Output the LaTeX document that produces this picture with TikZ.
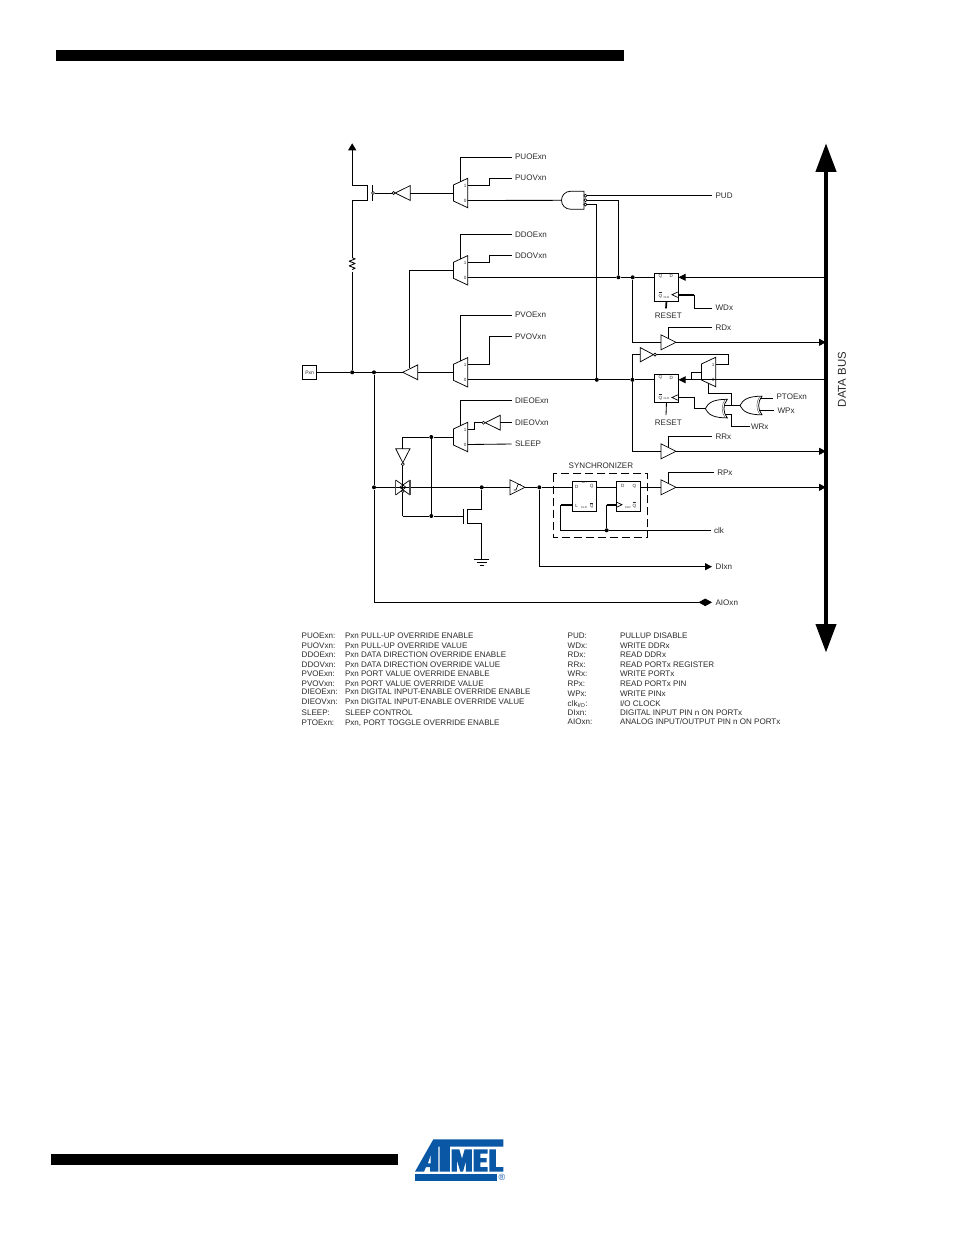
\documentclass[tikz,border=0pt]{standalone}
\usepackage{fontspec}
\setmainfont{Liberation Sans}
\usetikzlibrary{arrows.meta,calc}
\definecolor{txt}{HTML}{2B2B2B}
\definecolor{atmelblue}{HTML}{0A57A5}
\tikzset{
  wire/.style={line width=0.85pt,black,line join=miter},
  thickwire/.style={line width=1.7pt,black},
  gate/.style={line width=0.75pt,black,fill=white,line join=miter},
  dotn/.style={circle,fill=black,inner sep=0pt,minimum size=4pt},
  bub/.style={circle,draw=black,fill=white,line width=0.6pt,inner sep=0pt,minimum size=3pt},
  lab/.style={anchor=west,inner sep=0pt,outer xsep=3.6pt,outer ysep=0pt,font=\fontsize{8.05}{8}\selectfont,text=txt,text height=5.8pt,text depth=0pt},
  leg/.style={anchor=base west,inner sep=0pt,outer sep=0pt,font=\fontsize{8.05}{8}\selectfont,text=txt},
  clab/.style={inner sep=0pt,font=\fontsize{8.05}{8}\selectfont,text=txt},
  microt/.style={inner sep=0pt,font=\fontsize{4.6}{4.8}\selectfont,text=txt},
  nanot/.style={inner sep=0pt,font=\fontsize{2.8}{3}\selectfont,text=txt},
  regbox/.style={draw=black,line width=0.9pt,fill=white,minimum width=23.4pt,inner sep=0pt,anchor=north west},
  arr/.style={-{Triangle[length=7pt,width=7pt]}},
}
% mux: x of short side, y centre, name
\newcommand{\muxbox}[3]{%
  \draw[gate] (#1,#2-8) -- (#1+14.3,#2-14.7) -- (#1+14.3,#2+14.7) -- (#1,#2+8) -- cycle;
  \coordinate (#3-in) at (#1,#2);
  \coordinate (#3-1) at (#1+14.3,#2-7.5);
  \coordinate (#3-0) at (#1+14.3,#2+7.5);
  \coordinate (#3-sel) at (#1+6.8,#2-11.2);
  \coordinate (#3-selb) at (#1+6.8,#2+11.2);
  \node[microt] (#3-t1) at (#1+11.8,#2-7.5) {1};
  \node[microt] (#3-t0) at (#1+11.8,#2+7.5) {0};
}
% buffer pointing right: x left, y centre, name
\newcommand{\bufR}[3]{%
  \draw[gate] (#1,#2-7.5) -- (#1+15,#2) -- (#1,#2+7.5) -- cycle;
  \coordinate (#3-in) at (#1,#2);
  \coordinate (#3-out) at (#1+15,#2);
  \coordinate (#3-en) at (#1+7,#2-4);
}
% buffer pointing left: x tip, y centre, name
\newcommand{\bufL}[3]{%
  \draw[gate] (#1,#2) -- (#1+15,#2-7.4) -- (#1+15,#2+7.4) -- cycle;
  \coordinate (#3-tip) at (#1,#2);
  \coordinate (#3-base) at (#1+15,#2);
}
% OR gate pointing left: x tip, y centre, name
\newcommand{\orL}[3]{%
  \draw[gate] (#1,#2) .. controls (#1+3,#2-6) and (#1+8,#2-9.3) .. (#1+22,#2-9.3)
     .. controls (#1+17.5,#2-4) and (#1+17.5,#2+4) .. (#1+22,#2+9.3)
     .. controls (#1+8,#2+9.3) and (#1+3,#2+6) .. (#1,#2) -- cycle;
  \draw[line width=0.5pt,black!60] (#1+20,#2-9.3) .. controls (#1+15.8,#2-4) and (#1+15.8,#2+4) .. (#1+20,#2+9.3);
  \coordinate (#3-out) at (#1,#2);
}
\begin{document}
\begin{tikzpicture}[x=1pt,y=-1pt]
\useasboundingbox (0,0) rectangle (954,1235);
\fill[white] (0,0) rectangle (954,1235);
% header / footer bars
\fill[black] (56,50) rectangle (624,61);
\fill[black] (51,1154) rectangle (398,1165);
% Atmel logo
\begin{scope}[shift={(405,1130)},x=0.3333pt,y=-0.3333pt]
  \fill[atmelblue] (85,28) -- (295,28) -- (295,50) -- (135,50) -- (135,125) -- (104,125) -- (104,50) -- (100,50) -- (100,125) -- (75,125) -- (75,111) -- (63,111) -- (57,125) -- (30,125) -- cycle;
  \fill[white] (69,100) -- (77,76) -- (77,100) -- cycle;
  \fill[atmelblue] (140,58) -- (163,58) -- (171,86) -- (179,58) -- (201,58) -- (201,125) -- (183,125) -- (183,92) -- (174,125) -- (166,125) -- (156,92) -- (156,125) -- (140,125) -- cycle;
  \fill[atmelblue] (206,58) -- (248,58) -- (248,71) -- (226,71) -- (226,84) -- (245,84) -- (245,97) -- (226,97) -- (226,111) -- (248,111) -- (248,125) -- (206,125) -- cycle;
  \fill[atmelblue] (253,58) -- (273,58) -- (273,111) -- (295,111) -- (295,125) -- (253,125) -- cycle;
  \fill[atmelblue] (30,133) rectangle (275,152);
  \node[inner sep=0pt,text=atmelblue,font=\fontsize{9}{9}\selectfont] (regmark) at (291,143) {®};
\end{scope}

% ---------- muxes
\muxbox{453.4}{193}{mA}
\muxbox{453.4}{270.3}{mB}
\muxbox{453.4}{372.3}{mC}
\muxbox{453.4}{437}{mD}
\muxbox{701.4}{372}{mE}

% ---------- labels
\node[lab] (PUOE) at (511.5,157) {PUOExn};
\node[lab] (PUOV) at (511.5,178) {PUOVxn};
\node[lab] (DDOE) at (511.5,234.3) {DDOExn};
\node[lab] (DDOV) at (511.5,255.7) {DDOVxn};
\node[lab] (PVOE) at (511.5,315) {PVOExn};
\node[lab] (PVOV) at (511.5,336.3) {PVOVxn};
\node[lab] (DIEE) at (511.5,400.5) {DIEOExn};
\node[lab] (DIEV) at (511.5,422.7) {DIEOVxn};
\node[lab] (SLP) at (511.5,444) {SLEEP};
\node[lab] (PUD) at (712,195.7) {PUD};
\node[lab] (WDx) at (712,308) {WDx};
\node[lab] (RDx) at (712,327.3) {RDx};
\node[lab] (RRx) at (712,436.7) {RRx};
\node[lab] (RPx) at (713.7,472.8) {RPx};
\node[lab] (clk) at (710.5,530.3) {clk};
\node[lab] (DIx) at (712,566.7) {DIxn};
\node[lab] (AIO) at (712,602.3) {AIOxn};
\node[lab] (PTO) at (773,396.3) {PTOExn};
\node[lab] (WPx) at (774,410.9) {WPx};
\node[lab,outer xsep=1pt] (WRx) at (750,426.8) {WRx};
\node[clab] (rst1) at (668.3,315.4) {RESET};
\node[clab] (rst2) at (668.3,422.7) {RESET};
\node[clab] (syn) at (600.9,465.4) {SYNCHRONIZER};
\node[inner sep=0pt,rotate=90,font=\fontsize{11.4}{12}\selectfont,text=txt] (dbus) at (842,379.5) {DATA BUS};

% ---------- Pxn pad
\node[draw=black,line width=0.9pt,fill=white,minimum width=14pt,minimum height=13.4pt,inner sep=0pt,font=\fontsize{5}{5}\selectfont,text=txt] (Pxn) at (309.7,372.3) {Pxn};

% ---------- registers
\node[regbox,minimum height=28pt] (rA) at (654.3,272.7) {};
\node[regbox,minimum height=28pt] (rB) at (654.3,374.3) {};
\node[regbox,minimum height=29.7pt] (rC) at (572.3,481) {};
\node[regbox,minimum height=29.7pt] (rD) at (616.3,481) {};
\node[microt] (rAq) at (660.5,276) {Q};
\node[microt] (rAd) at (671.3,276) {D};
\node[microt] (rAn) at (660.5,295) {$\overline{\mathrm{Q}}$};
\node[nanot] (rAc) at (666.3,297.3) {CLR};
\node[microt] (rBq) at (660.5,377.7) {Q};
\node[microt] (rBd) at (671.3,377.7) {D};
\node[microt] (rBn) at (660.5,397) {$\overline{\mathrm{Q}}$};
\node[nanot] (rBc) at (666.3,398.8) {CLR};
\node[microt] (rCd) at (576.7,486.5) {D};
\node[microt] (rCq) at (591.7,486.5) {Q};
\node[nanot] (rCs) at (584.3,482.5) {SET};
\node[microt] (rCl) at (576.7,506) {L};
\node[nanot] (rCc) at (584,507.7) {CLR};
\node[microt] (rCn) at (591.7,505.7) {$\overline{\mathrm{Q}}$};
\node[microt] (rDd) at (622.7,486) {D};
\node[microt] (rDq) at (634.3,486) {Q};
\node[nanot] (rDc) at (627.8,507.7) {CLR};
\node[microt] (rDn) at (634.3,505) {$\overline{\mathrm{Q}}$};
% clock marks
\coordinate (rAclk) at (677.7,294.7);
\coordinate (rBclk) at (677.7,397.5);
\coordinate (rCclk) at (572.3,504.7);
\coordinate (rDclk) at (616.3,504.7);
\draw[wire,line width=0.7pt] (677.7,292) -- (672,294.7) -- (677.7,297.4);
\draw[wire,line width=0.7pt] (677.7,394.8) -- (672,397.5) -- (677.7,400.2);
\draw[wire,line width=0.7pt] (616.3,502) -- (622,504.7) -- (616.3,507.4);

% ---------- buffers
\bufR{661}{342.3}{bRD}
\bufR{661}{451.3}{bRR}
\bufR{661}{487.3}{bRP}
\bufR{510}{487.3}{bSch}
\draw[wire,line width=0.6pt] (513.5,490) -- (516,490) -- (518,484.5) -- (520.5,484.5);
\bufL{395.2}{193}{iPU}
\bufL{402.7}{372.3}{bOut}
\bufL{485.2}{422.7}{iDIE}
% inverter pointing right (to PORT mux)
\draw[gate] (640.3,347.6) -- (653.5,354.6) -- (640.3,361.8) -- cycle;
\coordinate (iT-in) at (640.3,354.6);
\node[bub] (iT-b) at (655,354.6) {};
% input inverter pointing down
\draw[gate] (395.7,448.7) -- (410,448.7) -- (402.8,462.7) -- cycle;
\coordinate (iS-in) at (402.8,448.7);
\node[bub] (iS-b) at (402.8,464.2) {};
\node[bub] (iPU-b) at (393.6,193) {};
\node[bub] (iDIE-b) at (483.5,422.7) {};

% ---------- gates
\draw[gate] (584,191.2) -- (571,191.2) .. controls (565,191.2) and (561.5,195.5) .. (561.5,200.3) .. controls (561.5,205) and (565,209.3) .. (571,209.3) -- (584,209.3) -- cycle;
\coordinate (andO) at (561.5,200.3);
\node[bub] (andA) at (585.4,195.7) {};
\node[bub] (andB) at (585.4,200.2) {};
\node[bub] (andC) at (585.4,204.5) {};
\orL{705.3}{408.6}{orA}
\orL{740}{405.5}{orB}
\coordinate (orA-a) at (724.5,405.5);
\coordinate (orA-b) at (725.3,414);
\coordinate (orB-a) at (760,398.8);
\coordinate (orB-b) at (759.3,410.3);

% ---------- junctions
\node[dotn] (jPxA) at (352.2,372.3) {};
\node[dotn] (jPxB) at (374,372.3) {};
\node[dotn] (jIn) at (374,487.3) {};
\node[dotn] (jDA) at (618.4,277.3) {};
\node[dotn] (jDB) at (632.7,277.3) {};
\node[dotn] (jPA) at (596.8,379.8) {};
\node[dotn] (jPB) at (632.4,379.8) {};
\node[dotn] (jS1) at (431.3,437) {};
\node[dotn] (jS2) at (431.3,516) {};
\node[dotn] (jN) at (481.7,487.3) {};
\node[dotn] (jI2) at (539.3,487.3) {};
\node[dotn] (jClk) at (606.7,530.3) {};

% ---------- bus
\coordinate (busT) at (826,143.3);
\coordinate (busB) at (826,652.5);
\draw[line width=4pt,black,{Triangle[length=28.5pt,width=20pt]}-{Triangle[length=28.5pt,width=20pt]}] (busT) -- (busB);
\coordinate (bA) at (826,277.3);
\coordinate (bB) at (826,342.3);
\coordinate (bC) at (826,379.8);
\coordinate (bD) at (826,451.3);
\coordinate (bE) at (826,487.3);

% ---------- pull-up transistor and resistor
\coordinate (vcc) at (352.2,143.3);
\coordinate (pT) at (352.2,185);
\coordinate (pB) at (352.2,200);
\coordinate (cT) at (367,185);
\coordinate (cB) at (367,200);
\coordinate (gT) at (372,185);
\coordinate (gB) at (372,200.5);
\coordinate (resT) at (352.2,257.7);
\coordinate (resB) at (352.2,271.7);
\draw[wire,-{Triangle[length=7pt,width=8pt]}] (pT) -- (vcc);
\draw[wire] (pB) -- (cB) -- (cT) -- (pT);
\draw[wire] (gT) -- (gB);
\node[bub] (gBub) at (373,193) {};
\draw[wire] (gBub) -- (iPU-b);
\draw[wire] (iPU-base) -- (mA-in);
\draw[wire] (pB) -- (resT);
\draw[wire,line join=round] (resT) -- ++(3,1.2) -- ++(-6,2.3) -- ++(6,2.3) -- ++(-6,2.4) -- ++(6,2.3) -- ++(-3,1.3);
\draw[wire] (resB) -- (jPxA);
\draw[wire] (Pxn) -- (jPxA) -- (jPxB) -- (bOut-tip);
\draw[wire] (bOut-base) -- (mC-in);

% ---------- mux controls
\coordinate (lane) at (489.3,0);
\draw[wire] (mA-sel) |- (PUOE.west);
\draw[wire] (mA-1) -- (mA-1 -| lane) |- (PUOV.west);
\draw[wire] (mB-sel) |- (DDOE.west);
\draw[wire] (mB-1) -- (mB-1 -| lane) |- (DDOV.west);
\draw[wire] (mC-sel) |- (PVOE.west);
\draw[wire] (mC-1) -- (mC-1 -| lane) |- (PVOV.west);
\draw[wire] (mD-sel) |- (DIEE.west);
\coordinate (laneD) at (474.3,0);
\draw[wire] (mD-1) -- (mD-1 -| laneD) |- (iDIE-b);
\draw[wire] (iDIE-base) -- (DIEV.west);
\draw[wire] (mD-0) -- (SLP.west);

% ---------- mux outputs
\draw[wire] (mA-0) -- (andO);
\draw[wire] (andA) -- (PUD.west);
\draw[wire] (andB) -| (jDA);
\draw[wire] (andC) -| (jPA);
\draw[wire] (mB-0 |- jDA) -- (jDA) -- (jDB) -- (rA.west |- jDB);
\draw[wire,arr] (bA) -- (rA.east |- bA);
\draw[wire] (mC-0 |- jPA) -- (jPA) -- (jPB) -- (rB.west |- jPB);
\draw[wire,arr] (mE-0 |- bC) -- (rB.east |- bC);
\draw[wire] (mE-0 |- bC) -- (bC);

% direction feedback
\coordinate (fbB) at (409.3,367.7);
\draw[wire] (fbB) |- (mB-in);

% register A controls
\coordinate (wdLane) at (694.3,0);
\draw[thickwire] (rAclk) -- (rAclk -| wdLane);
\draw[wire] (rAclk -| wdLane) |- (WDx.west);
\coordinate (rstA) at (666,308.3);
\draw[thickwire] (rA.south) -- (rstA);
% register B controls
\coordinate (rstB) at (666,415);
\draw[wire] (rB.south) -- (rstB);
\draw[wire] (rBclk) -- (rBclk -| wdLane) |- (orA-out);

% read buffers
\draw[wire] (jDB) |- (bRD-in);
\draw[wire,arr] (bRD-out) -- (bB);
\draw[wire] (bRD-en) |- (RDx.west);
\draw[wire] (iT-in) -| (jPB);
\draw[wire] (jPB) |- (bRR-in);
\draw[wire,arr] (bRR-out) -- (bD);
\draw[wire] (bRR-en) |- (RRx.west);
\draw[wire,arr] (bRP-out) -- (bE);
\draw[wire] (bRP-en) |- (RPx.west);

% toggle mux
\coordinate (tgl) at (728.3,0);
\draw[wire] (iT-b) -- (iT-b -| tgl) |- (mE-1);
\coordinate (mEo) at (691.7,372);
\draw[wire] (mE-in) -- (mEo) -- (mEo |- bC);
\coordinate (lOr) at (731,0);
\coordinate (selY) at (0,393.3);
\draw[wire] (mE-selb) |- (lOr |- selY) -- (lOr |- orB-out);
\draw[wire] (orA-a) -- (orB-out);
\draw[wire] (orA-b) -| (lOr |- WRx.west) -- (WRx.west);
\draw[wire] (orB-a) -- (orB-a -| PTO.west);
\draw[wire] (orB-b) -- (orB-b -| WPx.west);

% input section
\draw[wire] (jPxB) -- (jIn) -- (AIO.west -| jIn);
\coordinate (gL) at (402.8,437);
\draw[wire] (iS-in) -- (gL) -- (jS1) -- (mD-in);
\draw[wire] (jS1) -- (jS2);
\coordinate (gBot) at (402.8,516);
\coordinate (nG) at (463.3,516);
\draw[wire] (gBot) -- (jS2) -- (nG);
\draw[wire] (jIn) -- (bSch-in);
% pass gate
\coordinate (pgC) at (402.8,487.3);
\draw[wire] (iS-b) -- (pgC);
\draw[wire] (pgC) -- (gBot);
\draw[wire,line width=0.7pt] (395.7,480) -- (406,487.3) -- (395.7,495);
\draw[wire,line width=0.7pt] (410,480) -- (399.7,487.3) -- (410,495);
\draw[line width=1.1pt,black!70] (395.7,480) -- (395.7,495);
\draw[line width=1.1pt,black!70] (410,480) -- (410,495);
\node[bub,minimum size=2.6pt] (pgB) at (402.8,491.3) {};
% n-channel clamp
\draw[wire] (463.3,508.7) -- (463.3,523.7);
\coordinate (nT) at (467.5,509.3);
\coordinate (nB) at (467.5,523.7);
\coordinate (gnd) at (481.7,559);
\draw[wire] (467.5,508.7) -- (467.5,523.7);
\draw[wire] (jN) |- (nT);
\draw[wire] (nB) -| (gnd);
\draw[wire] (474.3,559.3) -- (489.3,559.3);
\draw[wire] (477.3,562.3) -- (486.7,562.3);
\draw[wire] (479.7,565.3) -- (484,565.3);
% synchronizer
\draw[wire,dash pattern=on 8pt off 4pt] (553.3,473.7) rectangle (647.7,537.3);
\draw[wire] (bSch-out) -- (jI2) -- (rC.west |- jI2);
\draw[wire] (rC.east |- jI2) -- (rD.west |- jI2);
\draw[wire] (rD.east |- jI2) -- (bRP-in);
\coordinate (ckL) at (560.7,0);
\draw[thickwire] (rCclk) -- (rCclk -| ckL);
\draw[wire] (rCclk -| ckL) |- (jClk);
\draw[wire] (jClk) -- (clk.west);
\draw[thickwire] (rDclk) -- (rDclk -| jClk);
\draw[wire] (rDclk -| jClk) -- (jClk);
\draw[wire,arr] (jI2) |- (DIx.west);
\draw[wire,-{Diamond[length=13.5pt,width=7.5pt]}] (AIO.west -| jIn) -- (AIO.west);

% ---------- legend
\node[leg] (l1a) at (301.7,638.4) {PUOExn:};    \node[leg] (l1b) at (345,638.4) {Pxn PULL-UP OVERRIDE ENABLE};
\node[leg] (l2a) at (301.7,648.4) {PUOVxn:};    \node[leg] (l2b) at (345,648.4) {Pxn PULL-UP OVERRIDE VALUE};
\node[leg] (l3a) at (301.7,657.4) {DDOExn:};    \node[leg] (l3b) at (345,657.4) {Pxn DATA DIRECTION OVERRIDE ENABLE};
\node[leg] (l4a) at (301.7,667.4) {DDOVxn:};    \node[leg] (l4b) at (345,667.4) {Pxn DATA DIRECTION OVERRIDE VALUE};
\node[leg] (l5a) at (301.7,676.4) {PVOExn:};    \node[leg] (l5b) at (345,676.4) {Pxn PORT VALUE OVERRIDE ENABLE};
\node[leg] (l6a) at (301.7,686.1) {PVOVxn:};    \node[leg] (l6b) at (345,686.1) {Pxn PORT VALUE OVERRIDE VALUE};
\node[leg] (l7a) at (301.7,694.4) {DIEOExn:};   \node[leg] (l7b) at (345,694.4) {Pxn DIGITAL INPUT-ENABLE OVERRIDE ENABLE};
\node[leg] (l8a) at (301.7,704.6) {DIEOVxn:};     \node[leg] (l8b) at (345,704.6) {Pxn DIGITAL INPUT-ENABLE OVERRIDE VALUE};
\node[leg] (l9a) at (301.7,715.6) {SLEEP:};       \node[leg] (l9b) at (345,715.6) {SLEEP CONTROL};
\node[leg] (l10a) at (301.7,725.4) {PTOExn:};   \node[leg] (l10b) at (345,725.4) {Pxn, PORT TOGGLE OVERRIDE ENABLE};
\node[leg] (r1a) at (567.7,638.4) {PUD:};       \node[leg] (r1b) at (620,638.4) {PULLUP DISABLE};
\node[leg] (r2a) at (567.7,648.4) {WDx:};       \node[leg] (r2b) at (620,648.4) {WRITE DDRx};
\node[leg] (r3a) at (567.7,657.4) {RDx:};       \node[leg] (r3b) at (620,657.4) {READ DDRx};
\node[leg] (r4a) at (567.7,667.1) {RRx:};       \node[leg] (r4b) at (620,667.1) {READ PORTx REGISTER};
\node[leg] (r5a) at (567.7,676.6) {WRx:};         \node[leg] (r5b) at (620,676.6) {WRITE PORTx};
\node[leg] (r6a) at (567.7,686.4) {RPx:};       \node[leg] (r6b) at (620,686.4) {READ PORTx PIN};
\node[leg] (r7a) at (567.7,696.1) {WPx:};       \node[leg] (r7b) at (620,696.1) {WRITE PINx};
\node[leg] (r8a) at (567.7,706.4) {clk\textsubscript{I/O}:}; \node[leg] (r8b) at (620,706.4) {I/O CLOCK};
\node[leg] (r9a) at (567.7,715.1) {DIxn:};      \node[leg] (r9b) at (620,715.1) {DIGITAL INPUT PIN n ON PORTx};
\node[leg] (r10a) at (567.7,724.6) {AIOxn:};      \node[leg] (r10b) at (620,724.6) {ANALOG INPUT/OUTPUT PIN n ON PORTx};
\end{tikzpicture}
\end{document}
